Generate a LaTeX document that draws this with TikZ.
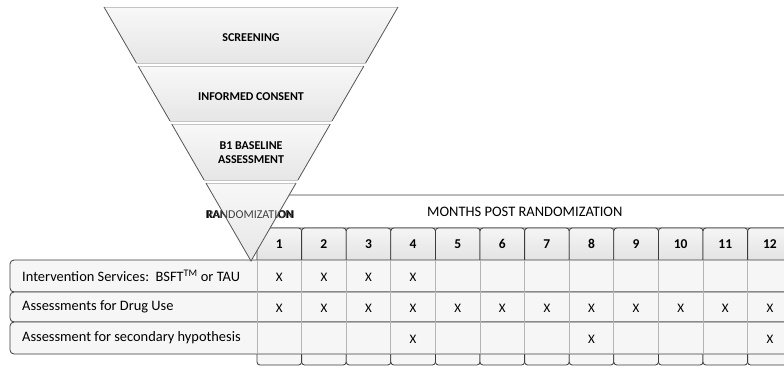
\documentclass[tikz,border=0pt]{standalone}
\usepackage{fontspec}
\setmainfont{Carlito}
\definecolor{edge}{HTML}{3C3C3C}
\definecolor{faint}{HTML}{B4B4B4}
\definecolor{rowfill}{HTML}{F6F6F6}
\definecolor{headtop}{HTML}{F5F5F5}
\definecolor{headbot}{HTML}{E2E2E2}
\definecolor{funtop}{HTML}{F8F8F8}
\definecolor{funbot}{HTML}{E6E6E6}
\definecolor{funside}{HTML}{555555}
\definecolor{funrim}{HTML}{C4C4C4}
\tikzset{
  rowlabel/.style={anchor=west, font=\fontsize{14.4}{16}\selectfont, text=black, inner sep=0pt},
  visitx/.style={font=\fontsize{13}{15}\selectfont, inner sep=0pt},
  monthnum/.style={font=\bfseries\fontsize{13.5}{15}\selectfont, inner sep=0pt},
  funlabel/.style={font=\bfseries\fontsize{12}{14}\selectfont, align=center, inner sep=0pt},
  rowbox/.style={draw=edge, fill=rowfill, line width=0.8pt, rounded corners=4pt},
  colbox/.style={draw=edge, line width=0.8pt, rounded corners=3pt},
}
\begin{document}
\begin{tikzpicture}[x=1pt, y=-1pt]
\clip (0,0) rectangle (784,368);
\fill[white] (0,0) rectangle (784,368);

% header band above the month columns
\draw[colbox, fill=white, rounded corners=4pt] (257,195) rectangle (810,228);
\node[font=\fontsize{14.5}{16}\selectfont, anchor=west, inner sep=0pt] (hdr) at (427,212) {MONTHS POST RANDOMIZATION};
\node[font=\bfseries\fontsize{12}{14}\selectfont, inner sep=0pt] (randhead) at (250,215) {RANDOMIZATION};

% month columns with shaded number cells
\foreach \i in {1,...,12} {
  \pgfmathsetmacro\xl{257+44.6*(\i-1)}
  \pgfmathsetmacro\xr{\xl+44.6}
  \path[fill=rowfill, rounded corners=3pt] (\xl,228) rectangle (\xr,365);
  \begin{scope}
    \clip (\xl,228) rectangle (\xr,260);
    \shade[top color=headtop, bottom color=headbot, rounded corners=3pt] (\xl,228) rectangle (\xr,262);
  \end{scope}
  \draw[colbox] (\xl,228) rectangle (\xr,365);
  \node[monthnum] (m\i) at ({\xl+22.3},244) {\i};
}

% activity rows
\draw[rowbox] (10,260) rectangle (810,292);
\draw[rowbox] (10,292) rectangle (810,322);
\draw[rowbox] (10,322) rectangle (810,354);
\foreach \i in {0,...,12} {
  \draw[faint, line width=0.8pt] ({257+44.6*\i},260.5) -- ({257+44.6*\i},353.5);
}
\node[rowlabel] (r1) at (22,276) {Intervention Services:\ \ BSFT\textsuperscript{TM} or TAU};
\node[rowlabel] (r2) at (22,307) {Assessments for Drug Use};
\node[rowlabel] (r3) at (22,338) {Assessment for secondary hypothesis};

% scheduled visits
\foreach \i in {1,2,3,4} { \node[visitx] (a\i) at ({257+44.6*(\i-1)+22.3},277) {X}; }
\foreach \i in {1,...,12} { \node[visitx] (b\i) at ({257+44.6*(\i-1)+22.3},308) {X}; }
\foreach \i in {4,8,12} { \node[visitx] (c\i) at ({257+44.6*(\i-1)+22.3},339) {X}; }

% enrolment funnel
\shade[top color=funtop, bottom color=funbot] (104,7) -- (398,7) -- (365.6,63) -- (136.4,63) -- cycle;
\shade[top color=funtop, bottom color=funbot] (138.1,66) -- (363.9,66) -- (332.0,121) -- (170.0,121) -- cycle;
\shade[top color=funtop, bottom color=funbot] (171.7,124) -- (330.3,124) -- (297.9,180) -- (204.1,180) -- cycle;
\shade[top color=funtop, bottom color=funbot] (205.9,183) -- (296.1,183) -- (251,261) -- cycle;
\draw[funrim, line width=0.7pt] (104,7) -- (398,7) (136.4,63) -- (365.6,63)
  (138.1,66) -- (363.9,66) (170.0,121) -- (332.0,121)
  (171.7,124) -- (330.3,124) (204.1,180) -- (297.9,180)
  (205.9,183) -- (296.1,183);
\draw[funside, line width=0.8pt] (104,7) -- (136.4,63) (398,7) -- (365.6,63)
  (138.1,66) -- (170.0,121) (363.9,66) -- (332.0,121)
  (171.7,124) -- (204.1,180) (330.3,124) -- (297.9,180)
  (205.9,183) -- (251,261) -- (296.1,183);

\node[funlabel] (f1) at (251,38) {SCREENING};
\node[funlabel] (f2) at (251,97) {INFORMED CONSENT};
\node[funlabel] (f3) at (251,153) {B1 BASELINE\\ASSESSMENT};
\node[font=\fontsize{12}{14}\selectfont, text=black!75, inner sep=0pt] (f4) at (250,215) {RANDOMIZATION};
\end{tikzpicture}
\end{document}
